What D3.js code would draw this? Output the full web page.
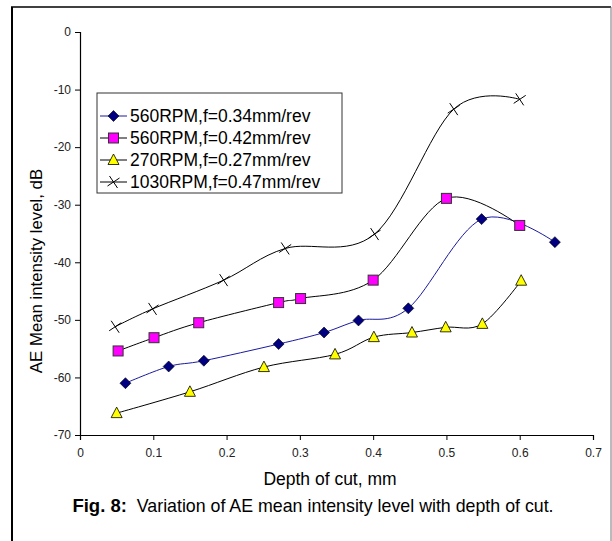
<!DOCTYPE html>
<html>
<head>
<meta charset="utf-8">
<script src="https://cdn.jsdelivr.net/npm/d3@7"></script>
<style>
    body { margin: 0; background: white; }
    svg { display: block; font-family: "Liberation Sans", Arial, sans-serif; }
</style>
</head>
<body>
<svg id="chart" width="612" height="541"></svg>
<script>
// depth of cut (mm) and AE level (dB)
const s1x = [0.062, 0.121, 0.169, 0.271, 0.333, 0.380, 0.448, 0.548, 0.648];
const s1y = [-61.0, -58.1, -57.1, -54.2, -52.2, -50.1, -48.0, -32.5, -36.5];

const s2x = [0.052, 0.101, 0.162, 0.271, 0.301, 0.400, 0.500, 0.600];
const s2y = [-55.4, -53.1, -50.5, -47.0, -46.3, -43.1, -28.9, -33.6];

const s3x = [0.050, 0.150, 0.251, 0.348, 0.401, 0.453, 0.499, 0.549, 0.602];
const s3y = [-66.2, -62.5, -58.2, -56.0, -53.0, -52.2, -51.3, -50.7, -43.2];

const s4x = [0.048, 0.099, 0.196, 0.280, 0.402, 0.510, 0.600];
const s4y = [-51.2, -48.1, -43.1, -37.6, -35.1, -13.4, -11.7];

const seriesNames = [
    "560RPM,f=0.34mm/rev",
    "560RPM,f=0.42mm/rev",
    "270RPM,f=0.27mm/rev",
    "1030RPM,f=0.47mm/rev"
];

const xTicks = [0, 0.1, 0.2, 0.3, 0.4, 0.5, 0.6, 0.7];
const yTicks = [0, -10, -20, -30, -40, -50, -60, -70];

const svg = d3.select("#chart");

// outer frame
svg.append("line").attr("x1", 12).attr("y1", 7).attr("x2", 12).attr("y2", 541)
    .attr("stroke", "#000").attr("stroke-width", 2);
svg.append("line").attr("x1", 11).attr("y1", 7).attr("x2", 611).attr("y2", 7)
    .attr("stroke", "#000").attr("stroke-width", 1.5);
svg.append("line").attr("x1", 611).attr("y1", 7).attr("x2", 611).attr("y2", 541)
    .attr("stroke", "#777").attr("stroke-width", 1);

const x = d3.scaleLinear().domain([0, 0.7]).range([80, 593]);
const y = d3.scaleLinear().domain([-70, 0]).range([435, 32]);

const xAxis = svg.append("g")
    .attr("transform", "translate(0,435)")
    .call(d3.axisBottom(x).tickValues(xTicks).tickSize(5).tickPadding(8)
        .tickFormat(d => d === 0 ? "0" : d.toFixed(1)));
const yAxis = svg.append("g")
    .attr("transform", "translate(80,0)")
    .call(d3.axisLeft(y).tickValues(yTicks).tickSize(5).tickPadding(4)
        .tickFormat(d => String(d)));   // plain hyphen like the original

[xAxis, yAxis].forEach(g => {
    g.select(".domain").attr("stroke", "#000").attr("stroke-width", 1.2);
    g.selectAll(".tick line").attr("stroke", "#000");
    g.selectAll(".tick text").attr("font-size", 12).attr("fill", "#222")
        .attr("font-family", "Liberation Sans, Arial, sans-serif");
});

// axis titles
svg.append("text")
    .attr("transform", "translate(42,271) rotate(-90)")
    .attr("text-anchor", "middle")
    .attr("font-size", 16.8)
    .text("AE Mean intensity level, dB");

svg.append("text")
    .attr("x", 330).attr("y", 485)
    .attr("text-anchor", "middle")
    .attr("font-size", 17.5)
    .text("Depth of cut, mm");

const cap = svg.append("text")
    .attr("x", 313).attr("y", 512)
    .attr("text-anchor", "middle")
    .attr("font-size", 17.8);
cap.append("tspan").attr("font-weight", "bold").attr("font-size", 18.5).text("Fig. 8:");
cap.append("tspan").text("\u00a0 Variation of AE mean intensity level with depth of cut.");

const line = d3.line()
    .x(d => x(d[0]))
    .y(d => y(d[1]))
    .curve(d3.curveCatmullRom.alpha(0));

const series = [
    { xs: s1x, ys: s1y, stroke: "#1a1aa0", marker: "diamond" },
    { xs: s2x, ys: s2y, stroke: "#000", marker: "square" },
    { xs: s3x, ys: s3y, stroke: "#000", marker: "triangle" },
    { xs: s4x, ys: s4y, stroke: "#000", marker: "cross" }
];

function drawMarker(g, type, cx, cy) {
    if (type === "diamond") {
        g.append("path")
            .attr("d", `M${cx},${cy - 5.5}L${cx + 5.5},${cy}L${cx},${cy + 5.5}L${cx - 5.5},${cy}Z`)
            .attr("fill", "#000080").attr("stroke", "#000").attr("stroke-width", 0.6);
    } else if (type === "square") {
        g.append("rect")
            .attr("x", cx - 5).attr("y", cy - 5).attr("width", 10).attr("height", 10)
            .attr("fill", "#ff00ff").attr("stroke", "#333").attr("stroke-width", 1);
    } else if (type === "triangle") {
        g.append("path")
            .attr("d", `M${cx},${cy - 6}L${cx + 5.5},${cy + 4.5}L${cx - 5.5},${cy + 4.5}Z`)
            .attr("fill", "#ffff00").attr("stroke", "#000").attr("stroke-width", 0.8);
    } else {
        g.append("path")
            .attr("d", `M${cx - 4},${cy - 6}L${cx + 4},${cy + 6}M${cx + 6},${cy - 4}L${cx - 6},${cy + 4}`)
            .attr("stroke", "#000").attr("stroke-width", 1).attr("fill", "none");
    }
}

const plot = svg.append("g");
series.forEach(s => {
    const pts = s.xs.map((v, i) => [v, s.ys[i]]);
    plot.append("path")
        .datum(pts)
        .attr("d", line)
        .attr("fill", "none")
        .attr("stroke", s.stroke)
        .attr("stroke-width", 1);
});
series.forEach(s => {
    const g = plot.append("g");
    s.xs.forEach((v, i) => drawMarker(g, s.marker, x(v), y(s.ys[i])));
});

// legend
const legend = svg.append("g");
legend.append("rect")
    .attr("x", 97).attr("y", 93).attr("width", 245).attr("height", 100)
    .attr("fill", "#fff").attr("stroke", "#333").attr("stroke-width", 1);
seriesNames.forEach((name, i) => {
    const ly = 116 + i * 22;
    legend.append("line")
        .attr("x1", 100).attr("x2", 127).attr("y1", ly).attr("y2", ly)
        .attr("stroke", series[i].stroke).attr("stroke-width", 1);
    drawMarker(legend, series[i].marker, 113.5, ly);
    legend.append("text")
        .attr("x", 130).attr("y", ly + 6)
        .attr("font-size", 17.5)
        .text(name);
});
</script>
</body>
</html>
